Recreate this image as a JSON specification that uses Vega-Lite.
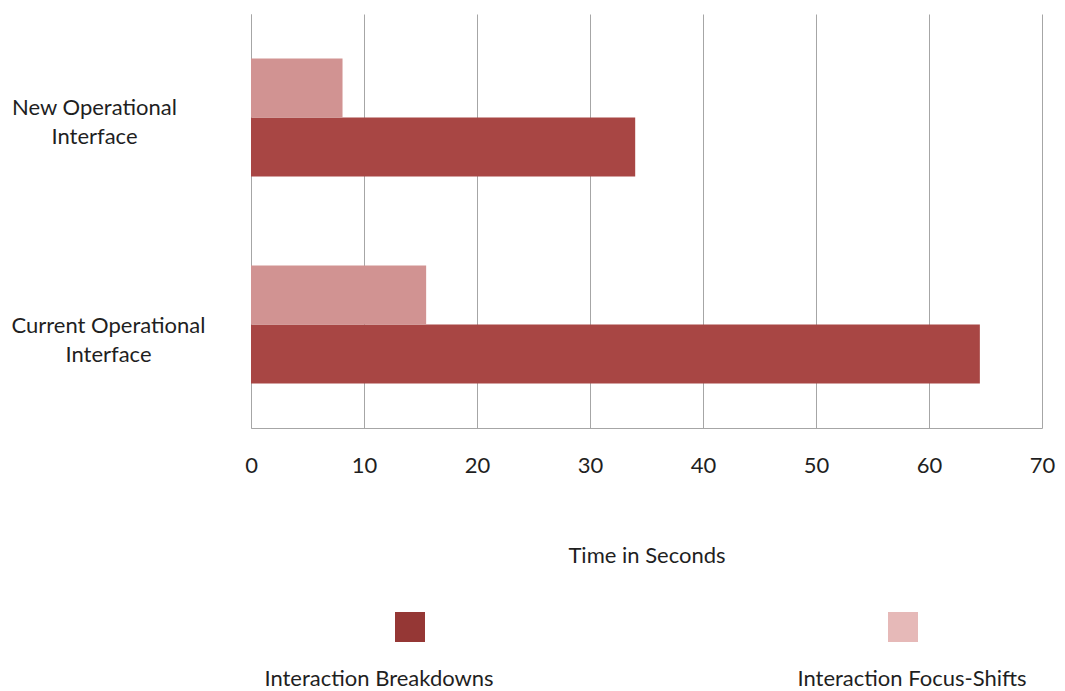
{
  "$schema": "https://vega.github.io/schema/vega-lite/v6.json",
  "autosize": {"type": "none"},
  "width": 791,
  "height": 414,
  "padding": {"left": 251, "top": 14, "right": 23, "bottom": 263},
  "background": "white",
  "config": {
    "font": "Lato",
    "view": {"stroke": null},
    "axis": {"labelFont": "Lato", "titleFont": "Lato", "labelColor": "#1f1f1f", "titleColor": "#1f1f1f", "labelFontSize": 22, "titleFontSize": 22, "titleFontWeight": "normal"},
    "legend": {"labelFont": "Lato", "labelFontSize": 22, "labelColor": "#1f1f1f", "labelLimit": 0}
  },
  "data": {
    "values": [
      {"interface": "New Operational Interface", "series": "Interaction Breakdowns", "seconds": 34.0},
      {"interface": "New Operational Interface", "series": "Interaction Focus-Shifts", "seconds": 8.1},
      {"interface": "Current Operational Interface", "series": "Interaction Breakdowns", "seconds": 64.5},
      {"interface": "Current Operational Interface", "series": "Interaction Focus-Shifts", "seconds": 15.5}
    ]
  },
  "encoding": {
    "y": {
      "field": "interface", "type": "nominal",
      "sort": ["New Operational Interface", "Current Operational Interface"],
      "scale": {"paddingInner": 0, "paddingOuter": 0},
      "axis": {
        "title": null, "ticks": false, "domainColor": "#a6a6a6", "grid": false,
        "labelAlign": "center", "labelBaseline": "middle", "labelLimit": 0,
        "labelPadding": {"condition": {"test": "datum.value === 'New Operational Interface'", "value": 157}, "value": 143},
        "labelOffset": {"condition": {"test": "datum.value === 'New Operational Interface'", "value": -10}, "value": 1},
        "labelLineHeight": 29,
        "labelExpr": "[replace(datum.label, ' Interface', ''), 'Interface']"
      }
    },
    "x": {
      "field": "seconds", "type": "quantitative",
      "scale": {"domain": [0, 70], "nice": false},
      "axis": {
        "title": "Time in Seconds", "values": [0, 10, 20, 30, 40, 50, 60, 70],
        "ticks": false, "domainColor": "#a6a6a6", "gridColor": "#a6a6a6", "grid": true,
        "labelPadding": 27, "labelBaseline": "top", "titlePadding": 69, "labelFlush": false
      }
    }
  },
  "layer": [
    {
      "mark": {"type": "bar"},
      "encoding": {
        "yOffset": {
          "field": "series", "type": "nominal",
          "sort": ["Interaction Focus-Shifts", "Interaction Breakdowns"],
          "scale": {"paddingInner": 0, "paddingOuter": 0.754}
        },
        "fill": {
          "field": "series", "type": "nominal",
          "scale": {"domain": ["Interaction Breakdowns", "Interaction Focus-Shifts"], "range": ["#a84644", "#d19392"]},
          "legend": null
        }
      }
    },
    {
      "transform": [{"filter": "datum.series === 'Interaction Breakdowns'"}],
      "mark": {"type": "square", "opacity": 0, "size": 1},
      "encoding": {
        "fill": {
          "field": "series", "type": "nominal",
          "scale": {"range": ["#953735"]},
          "legend": {
            "title": null, "orient": "none", "legendX": 144, "legendY": 598,
            "symbolType": "square", "symbolSize": 900, "symbolOpacity": 1, "symbolStrokeWidth": 0,
            "labelAlign": "center", "labelOffset": -15, "padding": 0,
            "encode": {"labels": {"update": {"dy": {"value": 52}, "dx": {"value": -31}}}}
          }
        }
      }
    },
    {
      "transform": [{"filter": "datum.series === 'Interaction Focus-Shifts'"}],
      "mark": {"type": "square", "opacity": 0, "size": 1},
      "encoding": {
        "fill": {
          "field": "series", "type": "nominal",
          "scale": {"range": ["#e6b9b8"]},
          "legend": {
            "title": null, "orient": "none", "legendX": 637, "legendY": 598,
            "symbolType": "square", "symbolSize": 900, "symbolOpacity": 1, "symbolStrokeWidth": 0,
            "labelAlign": "center", "labelOffset": -15, "padding": 0,
            "encode": {"labels": {"update": {"dy": {"value": 52}, "dx": {"value": 9}}}}
          }
        }
      }
    }
  ],
  "resolve": {"scale": {"fill": "independent"}, "legend": {"fill": "independent"}}
}
